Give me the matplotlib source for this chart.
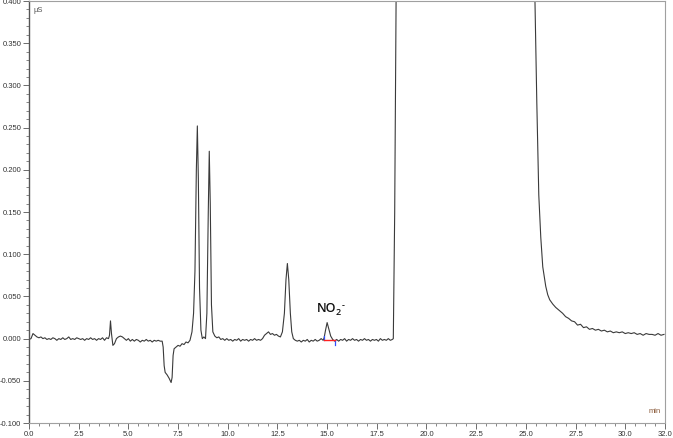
import numpy as np
import matplotlib
matplotlib.use('Agg')
import matplotlib.pyplot as plt
from matplotlib.ticker import MultipleLocator, FixedLocator, FuncFormatter

plt.rcParams.update({
    'font.family': ['Liberation Sans', 'DejaVu Sans'],
    'font.size': 5.5,
})

# chromatogram trace (min, uS)
time_min = [
    0.00, 0.10, 0.20, 0.30, 0.40, 0.50, 0.60, 0.70, 0.80, 0.90,
    1.00, 1.10, 1.20, 1.30, 1.40, 1.50, 1.60, 1.70, 1.80, 1.90,
    2.00, 2.10, 2.20, 2.30, 2.40, 2.50, 2.60, 2.70, 2.80, 2.90,
    3.00, 3.10, 3.20, 3.30, 3.40, 3.50, 3.60, 3.70, 3.80, 3.90,
    4.00, 4.05, 4.10, 4.15, 4.22, 4.30, 4.40, 4.50, 4.60, 4.70,
    4.80, 4.90, 5.00, 5.10, 5.20, 5.30, 5.40, 5.50, 5.60, 5.70,
    5.80, 5.90, 6.00, 6.10, 6.20, 6.30, 6.40, 6.50, 6.60, 6.70,
    6.75, 6.80, 6.85, 6.95, 7.05, 7.15, 7.20, 7.25, 7.30, 7.40,
    7.50, 7.60, 7.70, 7.80, 7.90, 8.00, 8.10, 8.20, 8.28, 8.35,
    8.42, 8.47, 8.52, 8.58, 8.65, 8.72, 8.80, 8.88, 8.95, 9.02,
    9.07, 9.12, 9.18, 9.25, 9.35, 9.45, 9.55, 9.65, 9.75, 9.85,
    9.95, 10.05, 10.15, 10.25, 10.35, 10.45, 10.55, 10.65, 10.75, 10.85,
    10.95, 11.05, 11.15, 11.25, 11.35, 11.45, 11.55, 11.65, 11.75, 11.85,
    11.95, 12.05, 12.15, 12.25, 12.35, 12.45, 12.55, 12.65, 12.75, 12.85,
    12.93, 13.00, 13.07, 13.15, 13.22, 13.30, 13.40, 13.50, 13.60, 13.70,
    13.80, 13.90, 14.00, 14.10, 14.20, 14.30, 14.40, 14.50, 14.60, 14.70,
    14.80, 14.85, 14.92, 15.00, 15.08, 15.18, 15.28, 15.38, 15.48, 15.58,
    15.68, 15.78, 15.88, 15.98, 16.08, 16.18, 16.28, 16.38, 16.48, 16.58,
    16.68, 16.78, 16.88, 16.98, 17.08, 17.18, 17.28, 17.38, 17.48, 17.58,
    17.68, 17.78, 17.88, 17.98, 18.08, 18.18, 18.28, 18.33, 18.40, 18.47,
    18.55, 20.00, 24.00, 25.30, 25.45, 25.55, 25.65, 25.75, 25.85, 26.00,
    26.10, 26.20, 26.35, 26.50, 26.70, 26.85, 27.00, 27.15, 27.30, 27.45,
    27.60, 27.75, 27.90, 28.05, 28.20, 28.35, 28.50, 28.65, 28.80, 28.95,
    29.10, 29.25, 29.40, 29.55, 29.70, 29.85, 30.00, 30.15, 30.30, 30.45,
    30.60, 30.75, 30.90, 31.05, 31.20, 31.35, 31.50, 31.65, 31.80, 31.95,
]
signal_us = [
    -0.001, 0.000, 0.006, 0.004, 0.002, 0.001, 0.002, 0.000, 0.001, -0.001,
    0.000, -0.001, 0.001, 0.000, -0.002, 0.000, -0.001, 0.001, -0.001, 0.000,
    0.002, -0.001, 0.000, -0.001, 0.001, 0.000, -0.001, 0.000, -0.002, 0.000,
    -0.001, 0.001, -0.001, 0.000, -0.002, 0.000, -0.001, 0.001, -0.002, 0.001,
    0.000, 0.004, 0.021, 0.006, -0.008, -0.006, 0.000, 0.002, 0.003, 0.002,
    0.000, -0.002, 0.000, -0.003, -0.001, -0.003, -0.001, -0.002, -0.004, -0.002,
    -0.003, -0.001, -0.003, -0.002, -0.004, -0.002, -0.003, -0.002, -0.003, -0.003,
    -0.010, -0.032, -0.040, -0.043, -0.047, -0.052, -0.046, -0.020, -0.012, -0.010,
    -0.008, -0.009, -0.006, -0.007, -0.004, -0.005, -0.002, 0.008, 0.030, 0.080,
    0.200, 0.252, 0.190, 0.060, 0.010, 0.000, 0.002, 0.000, 0.030, 0.150,
    0.222, 0.160, 0.040, 0.008, 0.003, 0.001, 0.002, -0.001, 0.000, -0.002,
    0.000, -0.002, -0.001, -0.003, -0.001, -0.002, 0.000, -0.003, -0.001, -0.002,
    -0.001, -0.003, -0.001, -0.002, 0.000, -0.002, -0.001, -0.002, 0.000, 0.004,
    0.006, 0.008, 0.005, 0.006, 0.004, 0.005, 0.003, 0.002, 0.008, 0.030,
    0.070, 0.089, 0.070, 0.030, 0.008, 0.000, -0.002, -0.003, -0.002, -0.004,
    -0.002, -0.003, -0.001, -0.004, -0.002, -0.003, -0.001, -0.003, -0.002, 0.000,
    -0.002, 0.001, 0.010, 0.019, 0.012, 0.003, -0.001, -0.003, -0.001, -0.003,
    -0.001, -0.002, 0.000, -0.003, -0.001, -0.002, 0.000, -0.002, -0.001, -0.003,
    -0.001, -0.002, 0.000, -0.002, -0.001, -0.003, -0.001, -0.002, -0.001, -0.003,
    0.000, -0.002, -0.001, -0.002, 0.000, -0.002, -0.001, 0.000, 0.150, 0.400,
    0.900, 1.500, 1.500, 0.900, 0.410, 0.280, 0.170, 0.120, 0.085, 0.062,
    0.052, 0.046, 0.041, 0.037, 0.033, 0.030, 0.026, 0.024, 0.021, 0.020,
    0.016, 0.017, 0.013, 0.014, 0.011, 0.012, 0.010, 0.011, 0.009, 0.010,
    0.008, 0.009, 0.007, 0.008, 0.007, 0.008, 0.006, 0.007, 0.006, 0.007,
    0.005, 0.006, 0.004, 0.006, 0.005, 0.005, 0.004, 0.006, 0.004, 0.005,
]

# integration of the nitrite peak
no2_start, no2_end = 14.84, 15.40
no2_base = [-0.002, -0.002]
no2_label_pos = (14.5, 0.036)

fig = plt.figure(figsize=(6.73, 4.38), dpi=100)
ax = fig.add_axes([0.0431, 0.0342, 0.9450, 0.9635])

ax.plot(time_min, signal_us, color='#3a3a3a', lw=0.8)

# baseline + boundary marks
ax.plot([no2_start, no2_end], no2_base, color='#ff2020', lw=1.0, zorder=3)
ax.plot([no2_start, no2_start], [no2_base[0], no2_base[0] + 0.005], color='#3050ff', lw=0.9)
ax.plot([no2_end, no2_end], [no2_base[1], no2_base[1] - 0.005], color='#3050ff', lw=0.9)

# label: NO + subscript 2 + small superscript dash
lbl = ax.text(no2_label_pos[0], no2_label_pos[1], 'NO', ha='left', va='center',
              fontsize=9, family='Open Sans', weight='semibold', color='#111111')
ax.annotate('2', xy=(1.0, 0.0), xycoords=lbl, xytext=(-0.6, 1.5),
            textcoords='offset points', ha='left', va='center',
            fontsize=6.5, family='Open Sans', weight='semibold', color='#111111')
ax.annotate('-', xy=(1.0, 1.0), xycoords=lbl, xytext=(3.4, -2.5),
            textcoords='offset points', ha='left', va='center',
            fontsize=6.5, family='Open Sans', weight='semibold', color='#111111')

ax.set_xlim(0, 32)
ax.set_ylim(-0.1, 0.4)

xt = list(np.arange(0, 31, 2.5)) + [32.0]
ax.xaxis.set_major_locator(FixedLocator(xt))
ax.xaxis.set_minor_locator(MultipleLocator(0.5))
ax.yaxis.set_major_locator(MultipleLocator(0.05))
ax.yaxis.set_minor_locator(MultipleLocator(0.01))
ax.xaxis.set_major_formatter(FuncFormatter(lambda v, p: f'{v:.1f}'))
ax.yaxis.set_major_formatter(FuncFormatter(lambda v, p: f'{(0.0 if abs(v) < 1e-9 else v):.3f}'))

ax.tick_params(which='major', direction='out', length=4, width=0.6, color='#555555',
               labelcolor='#333333', labelsize=5.5, pad=1.5)
ax.tick_params(which='minor', direction='out', length=2.5, width=0.5, color='#555555')

for side in ['top', 'right', 'bottom']:
    ax.spines[side].set_color('#a0a0a0')
    ax.spines[side].set_linewidth(0.8)
ax.spines['left'].set_color('#555555')
ax.spines['left'].set_linewidth(1.0)

ax.text(0.007, 0.985, 'µS', transform=ax.transAxes, ha='left', va='top',
        fontsize=5.5, color='#555555')
ax.text(0.993, 0.018, 'min', transform=ax.transAxes, ha='right', va='bottom',
        fontsize=5.5, color='#8a5a3a')

fig.savefig('out.png', dpi=100)
